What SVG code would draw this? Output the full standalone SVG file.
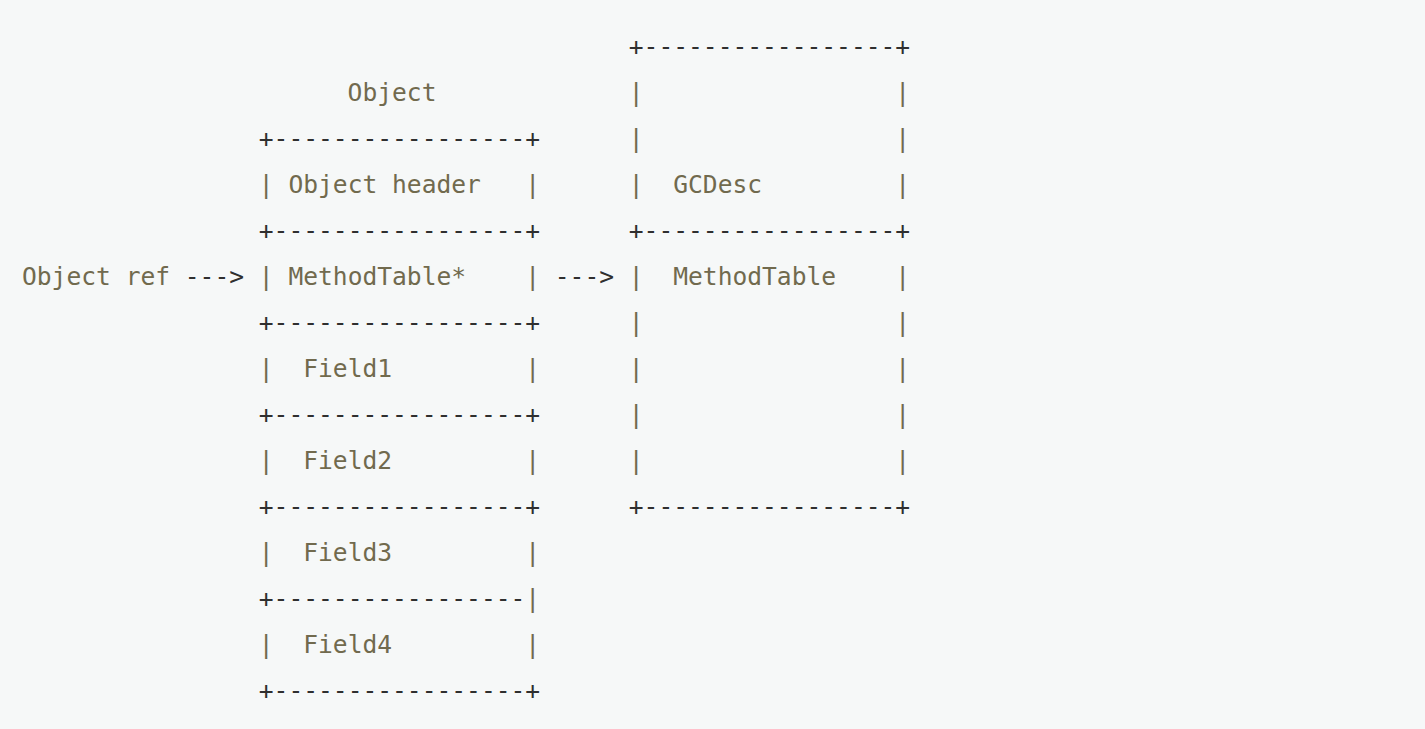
<svg xmlns="http://www.w3.org/2000/svg" width="1425" height="729" viewBox="0 0 1425 729">
<style>
text{font-family:"DejaVu Sans Mono","Liberation Mono",monospace;font-size:24.6px;white-space:pre}
.d{fill:#2f2f2f}
.t{fill:#716a4e}
</style>
<rect width="1425" height="729" fill="#f6f8f8"/>
<g id="object-ref">
<text class="t" x="22" y="284.5">Object ref</text>
</g>
<g id="object">
<text class="t" x="347.6" y="100.5">Object</text>
<text class="d" x="258.8" y="146.5">+-----------------+</text>
<text x="258.8" y="192.5"><tspan class="t">| Object header   |</tspan></text>
<text class="d" x="258.8" y="238.5">+-----------------+</text>
<text class="t" x="258.8" y="284.5">| MethodTable*    |</text>
<text class="d" x="258.8" y="330.5">+-----------------+</text>
<text class="t" x="258.8" y="376.5">|  Field1         |</text>
<text class="d" x="258.8" y="422.5">+-----------------+</text>
<text class="t" x="258.8" y="468.5">|  Field2         |</text>
<text class="d" x="258.8" y="514.5">+-----------------+</text>
<text class="t" x="258.8" y="560.5">|  Field3         |</text>
<text x="258.8" y="606.5"><tspan class="d">+-----------------</tspan><tspan class="t">|</tspan></text>
<text class="t" x="258.8" y="652.5">|  Field4         |</text>
<text class="d" x="258.8" y="698.5">+-----------------+</text>
</g>
<g id="methodtable">
<text class="d" x="628.8" y="54.5">+-----------------+</text>
<text class="t" x="628.8" y="100.5">|                 |</text>
<text class="t" x="628.8" y="146.5">|                 |</text>
<text class="t" x="628.8" y="192.5">|  GCDesc         |</text>
<text class="d" x="628.8" y="238.5">+-----------------+</text>
<text class="t" x="628.8" y="284.5">|  MethodTable    |</text>
<text class="t" x="628.8" y="330.5">|                 |</text>
<text class="t" x="628.8" y="376.5">|                 |</text>
<text class="t" x="628.8" y="422.5">|                 |</text>
<text class="t" x="628.8" y="468.5">|                 |</text>
<text class="d" x="628.8" y="514.5">+-----------------+</text>
</g>
<g id="connectors">
<text class="d" x="184.8" y="284.5">---&gt;</text>
<text class="d" x="554.8" y="284.5">---&gt;</text>
</g>
</svg>
